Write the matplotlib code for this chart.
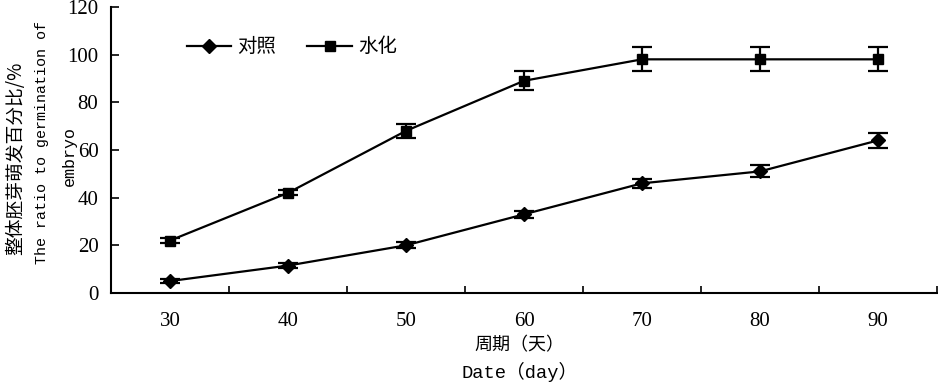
import matplotlib
matplotlib.use("Agg")
from matplotlib import pyplot as plt

days = [30, 40, 50, 60, 70, 80, 90]
control = [5, 11.5, 20, 33, 46, 51, 64]
control_err = [1, 1, 1.2, 1.5, 2, 2.5, 3]
hydrated = [22, 42, 68, 89, 98, 98, 98]
hydrated_err = [1, 1, 3, 4, 5, 5, 5]

cjk = ['Noto Sans CJK SC', 'DejaVu Sans']
mono = ['Liberation Mono', 'Noto Sans CJK SC']

fig = plt.figure(figsize=(9.38, 3.82), dpi=100)
ax = fig.add_axes([0.1183, 0.233, 0.8807, 0.749])

c1 = ax.errorbar(days, control, yerr=control_err, color='black', lw=1.6,
                 marker='D', markersize=7.5, capsize=7, capthick=1.6, elinewidth=1.6)
c2 = ax.errorbar(days, hydrated, yerr=hydrated_err, color='black', lw=1.6,
                 marker='s', markersize=7.5, capsize=7, capthick=1.6, elinewidth=1.6)

ax.set_xlim(25, 95)
ax.set_ylim(0, 120)
ax.set_yticks(range(0, 121, 20))
ax.set_xticks(days)
ax.set_xticks([35, 45, 55, 65, 75, 85, 95], minor=True)
ax.tick_params(axis='x', which='major', length=0, pad=14)
ax.tick_params(axis='x', which='minor', direction='in', length=5, width=1.2)
ax.tick_params(axis='y', direction='in', length=6, width=1.2, pad=9)
for lbl in ax.get_xticklabels() + ax.get_yticklabels():
    lbl.set_family('Liberation Serif')
    lbl.set_fontsize(15)

ax.spines['top'].set_visible(False)
ax.spines['right'].set_visible(False)
ax.spines['left'].set_linewidth(1.5)
ax.spines['bottom'].set_linewidth(1.5)

# legend shows only line + marker (no error bars)
ax.legend([c1.lines[0], c2.lines[0]], ['对照', '水化'], loc='center left',
          bbox_to_anchor=(0.08, 0.86), ncol=2, frameon=False, borderpad=0,
          prop={'family': cjk, 'size': 14}, handlelength=2.3, columnspacing=1.6,
          handletextpad=0.3)

# y axis label (three lines)
fig.text(0.017, 0.585, '整体胚芽萌发百分比/%', rotation=90, ha='center', va='center',
         family=cjk, fontsize=13.5)
fig.text(0.045, 0.626, 'The ratio to germination of', rotation=90, ha='center', va='center',
         family=mono, fontsize=10.8)
fig.text(0.0735, 0.592, 'embryo', rotation=90, ha='center', va='center',
         family=mono, fontsize=12)

# x axis label
fig.text(0.554, 0.097, '周期（天）', ha='center', va='center', family=cjk, fontsize=13)
fig.text(0.554, 0.025, 'Date（day）', ha='center', va='center', family=mono, fontsize=13.5)

plt.savefig('out.png', dpi=100)
